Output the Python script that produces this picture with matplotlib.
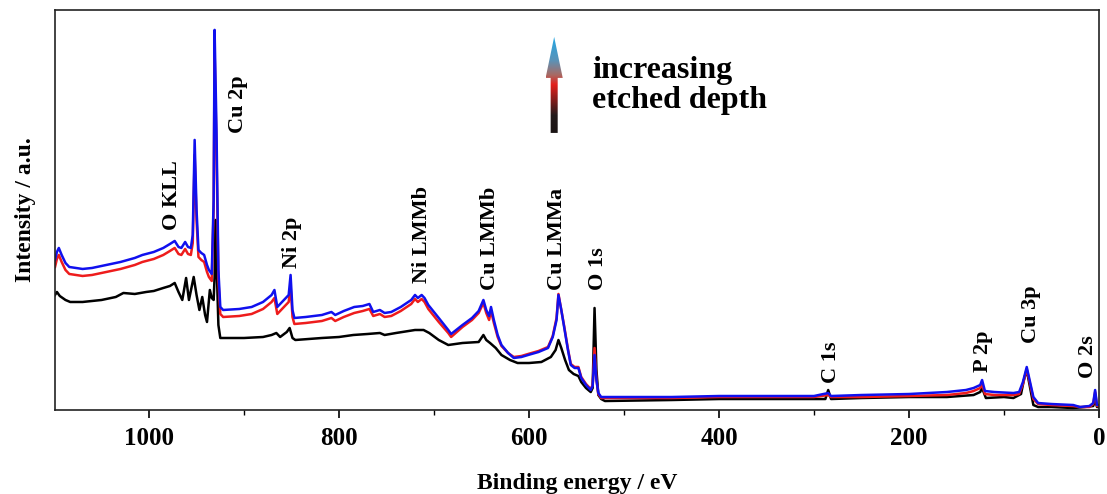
import numpy as np
import matplotlib
matplotlib.use('Agg')
from matplotlib import pyplot as plt
from matplotlib.colors import LinearSegmentedColormap
from matplotlib.patches import Polygon

plt.rcParams['font.family'] = ['Liberation Serif', 'DejaVu Serif']
plt.rcParams['font.weight'] = 'bold'

# survey spectra: (binding energy eV, intensity a.u.)
black_spec = [
    (1099, 115), (1097, 118), (1094, 114), (1088, 110), (1083, 108), (1070, 108), (1050, 110),
    (1035, 113), (1027, 117), (1015, 116), (1003, 118), (995, 119), (985, 122), (978, 124),
    (973, 127), (969, 118), (965, 110), (961, 132), (958, 110), (953, 133), (950, 115), (947, 100),
    (944, 113), (941, 95), (939, 88), (936, 120), (934, 112), (932, 110), (931, 133), (930, 190),
    (929, 150), (927, 85), (925, 72), (900, 72), (880, 73), (871, 75), (866, 77), (862, 73),
    (855, 78), (852, 82), (849, 72), (846, 70), (818, 72), (800, 73), (785, 75), (770, 76),
    (757, 77), (752, 75), (740, 77), (720, 80), (711, 80), (705, 77), (695, 70), (685, 65),
    (670, 67), (653, 68), (648, 75), (645, 70), (641, 67), (635, 62), (629, 55), (620, 50),
    (612, 47), (600, 47), (587, 48), (577, 53), (572, 60), (569, 70), (566, 62), (562, 50),
    (558, 40), (553, 36), (548, 34), (545, 28), (540, 22), (535, 18), (533, 22), (531, 102),
    (529, 40), (527, 15), (524, 11), (520, 9), (450, 10), (400, 11), (300, 11), (288, 11),
    (285, 20), (282, 11), (250, 12), (200, 13), (160, 13), (132, 15), (125, 18), (123, 22),
    (119, 12), (100, 13), (90, 12), (82, 16), (79, 30), (76, 40), (73, 25), (69, 5), (64, 3),
    (50, 3), (27, 2), (15, 3), (6, 4), (4, 10), (2, 3), (0, 3),
]

red_spec = [
    (1099, 143), (1097, 151), (1095, 155), (1092, 148), (1088, 140), (1084, 136), (1070, 134),
    (1060, 135), (1045, 138), (1030, 141), (1015, 145), (1007, 148), (995, 151), (985, 155),
    (978, 159), (973, 162), (969, 156), (966, 155), (962, 161), (959, 156), (956, 155), (954, 167),
    (952, 255), (950, 190), (948, 153), (945, 150), (942, 148), (939, 138), (937, 133), (934, 129),
    (932, 200), (931, 360), (929, 260), (927, 130), (925, 96), (922, 93), (905, 94), (892, 96),
    (880, 101), (871, 108), (868, 112), (865, 96), (860, 101), (853, 108), (851, 124), (849, 93),
    (847, 86), (835, 87), (818, 89), (808, 92), (804, 89), (795, 93), (784, 97), (775, 99),
    (768, 101), (764, 94), (757, 96), (752, 93), (745, 94), (735, 99), (724, 106), (720, 111),
    (717, 108), (713, 111), (710, 108), (706, 101), (695, 88), (685, 77), (682, 73), (670, 83),
    (660, 90), (653, 97), (648, 107), (645, 97), (642, 90), (640, 99), (637, 87), (633, 73),
    (629, 64), (622, 57), (616, 53), (608, 54), (601, 56), (590, 59), (580, 63), (575, 74),
    (571, 92), (569, 116), (566, 100), (563, 84), (559, 61), (556, 46), (552, 43), (548, 43),
    (545, 33), (540, 26), (535, 21), (533, 25), (531, 62), (529, 30), (527, 16), (524, 12),
    (500, 12), (450, 12), (400, 13), (300, 13), (285, 15), (282, 13), (250, 13), (200, 14),
    (160, 15), (140, 17), (132, 19), (125, 22), (123, 26), (120, 16), (110, 15), (90, 15),
    (84, 16), (80, 26), (76, 41), (73, 28), (69, 11), (64, 6), (50, 5), (27, 4), (20, 3),
    (10, 3), (6, 6), (4, 18), (2, 4), (0, 4),
]

blue_spec = [
    (1099, 150), (1097, 158), (1095, 162), (1092, 155), (1088, 147), (1084, 143), (1070, 141),
    (1060, 142), (1045, 145), (1030, 148), (1015, 152), (1007, 155), (995, 158), (985, 162),
    (978, 166), (973, 169), (969, 163), (966, 162), (962, 168), (959, 163), (956, 162), (954, 175),
    (952, 270), (950, 200), (948, 160), (945, 157), (942, 155), (939, 145), (937, 140), (934, 136),
    (932, 210), (931, 380), (929, 280), (927, 140), (925, 103), (922, 100), (905, 101), (892, 103),
    (880, 108), (871, 115), (868, 120), (865, 103), (860, 108), (853, 115), (851, 135), (849, 100),
    (847, 92), (835, 93), (818, 95), (808, 98), (804, 95), (795, 99), (784, 103), (775, 104),
    (768, 106), (764, 98), (757, 100), (752, 97), (745, 98), (735, 103), (724, 110), (720, 115),
    (717, 112), (713, 115), (710, 112), (706, 105), (695, 92), (685, 80), (682, 76), (670, 85),
    (660, 92), (653, 99), (648, 110), (645, 100), (642, 94), (640, 103), (637, 90), (633, 75),
    (629, 65), (622, 57), (616, 52), (608, 53), (601, 55), (590, 58), (580, 62), (575, 73),
    (571, 90), (569, 115), (566, 100), (563, 83), (559, 60), (556, 45), (552, 42), (548, 42),
    (545, 32), (540, 25), (535, 20), (533, 24), (531, 55), (529, 30), (527, 17), (524, 13),
    (500, 13), (450, 13), (400, 14), (300, 14), (285, 17), (282, 14), (250, 15), (200, 16),
    (160, 18), (140, 20), (132, 22), (125, 25), (123, 30), (120, 19), (110, 18), (90, 17),
    (84, 18), (80, 28), (76, 43), (73, 30), (69, 13), (64, 7), (50, 6), (27, 5), (20, 3),
    (10, 4), (6, 7), (4, 20), (2, 5), (0, 5),
]

peak_names = ['O KLL', 'Cu 2p', 'Ni 2p', 'Ni LMMb', 'Cu LMMb', 'Cu LMMa', 'O 1s', 'C 1s', 'P 2p', 'Cu 3p', 'O 2s']
peak_be = [976, 906, 850, 713, 641, 571, 527, 282, 122, 72, 12]
label_base = [180, 277, 142, 127, 120, 120, 120, 27, 38, 67, 32]

fig = plt.figure(figsize=(11.07, 4.94), dpi=100)
ax = fig.add_axes([0.0497, 0.170, 0.943, 0.810])

for spec, col in [(black_spec, 'black'), (red_spec, '#ee1c1c'), (blue_spec, '#1010ee')]:
    arr = np.array(spec)
    ax.plot(arr[:, 0], arr[:, 1], color=col, lw=1.8, solid_joinstyle='round')

for name, be, yb in zip(peak_names, peak_be, label_base):
    ax.text(be, yb, name, rotation=90, ha='center', va='bottom', fontsize=16, fontweight='bold')

# gradient arrow
ax_x, y0, yh, y1 = 573.5, 277, 332, 373
sw, hw = 3.7, 9.0
verts = [(ax_x - sw, y0), (ax_x + sw, y0), (ax_x + sw, yh), (ax_x + hw, yh), (ax_x, y1),
         (ax_x - hw, yh), (ax_x - sw, yh)]
poly = Polygon(verts, closed=True, facecolor='none', edgecolor='none')
ax.add_patch(poly)
cmap = LinearSegmentedColormap.from_list('depth', [
    (0.0, '#1a1414'), (0.18, '#221a1a'), (0.5, '#e4201c'), (0.6, '#a86a64'),
    (0.75, '#5a93b8'), (1.0, '#22a8e6')])
grad = np.linspace(0, 1, 256).reshape(-1, 1)
im = ax.imshow(grad, cmap=cmap, origin='lower', aspect='auto',
               extent=(ax_x - hw, ax_x + hw, y0, y1), zorder=3)
im.set_clip_path(poly)

ax.text(533.6, 332, 'increasing', fontsize=23, fontweight='bold', ha='left', va='baseline')
ax.text(533.6, 302, 'etched depth', fontsize=23, fontweight='bold', ha='left', va='baseline')

ax.set_xlim(1099, 0)
ax.set_ylim(0, 400)
ax.set_xticks(np.arange(0, 1001, 200))
ax.set_xticks(np.arange(100, 1100, 200), minor=True)
ax.set_yticks([])
ax.tick_params(axis='x', which='major', direction='out', length=6, width=1.2, labelsize=18, pad=6)
ax.tick_params(axis='x', which='minor', direction='out', length=3.5, width=1.0)
for lab in ax.get_xticklabels():
    lab.set_fontweight('bold')
for sp in ax.spines.values():
    sp.set_linewidth(1.2)
    sp.set_color('#222222')

ax.set_xlabel('Binding energy / eV', fontsize=17, fontweight='bold', labelpad=17)
ax.set_ylabel('Intensity / a.u.', fontsize=17, fontweight='bold', labelpad=14)

fig.savefig('out.png', dpi=100)
